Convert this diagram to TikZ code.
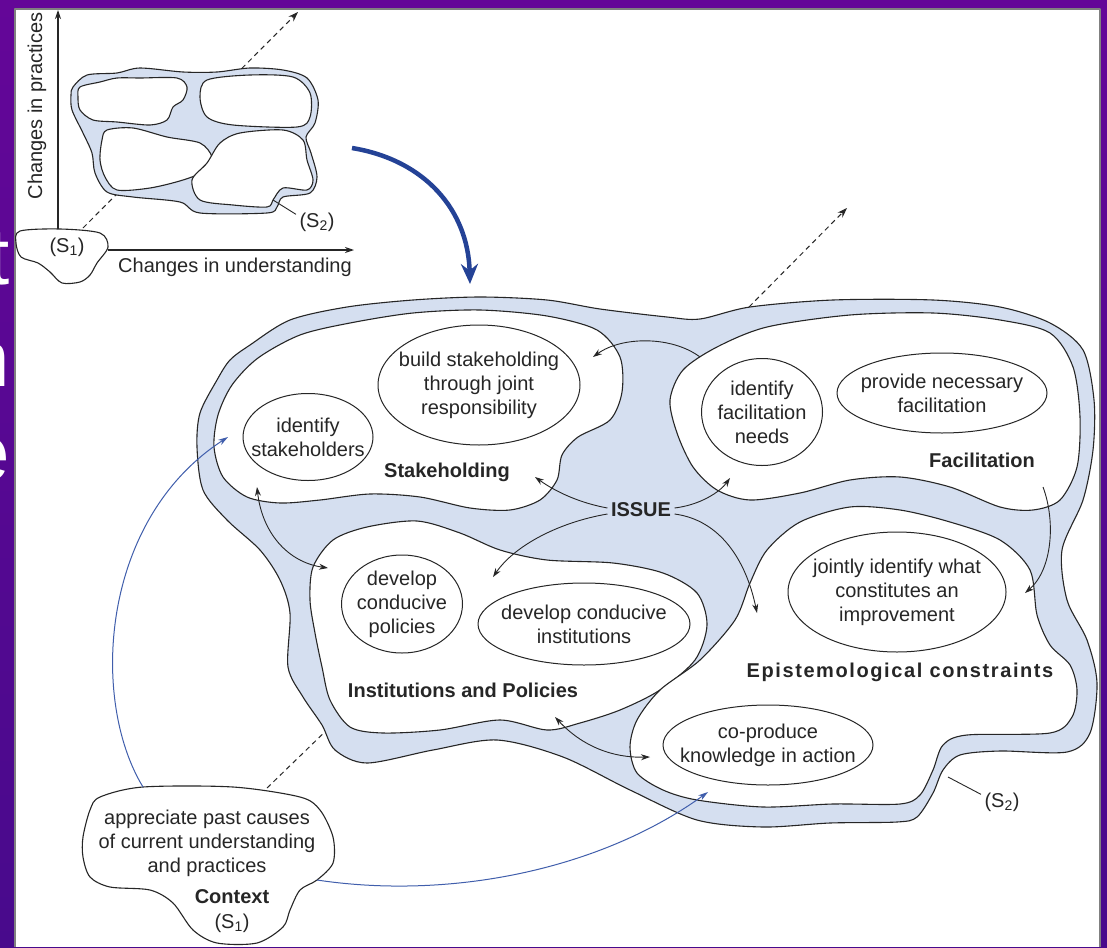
\documentclass[tikz,border=0pt]{standalone}
\usepackage{fontspec}
\setmainfont{Liberation Sans}
\usepackage{tikz}
\usetikzlibrary{shapes.geometric,arrows.meta}
\definecolor{framepurple}{RGB}{100,6,152}
\definecolor{framedeep}{RGB}{72,10,140}
\definecolor{bandblue}{RGB}{213,223,240}
\definecolor{ink}{RGB}{38,38,38}
\definecolor{deepblue}{RGB}{36,66,150}
\definecolor{ctxblue}{RGB}{64,94,172}

\begin{document}
\begin{tikzpicture}[x=1pt, y=-1pt, line join=round,
    every node/.style={text=ink, align=center, font=\fontsize{20}{24}\selectfont},
    region/.style={draw=ink, line width=1.1pt, fill=white},
    ring/.style={draw=ink, line width=1.1pt, fill=bandblue},
    idea/.style={ellipse, draw=ink, line width=1pt, inner sep=-15pt},
    heading/.style={font=\fontsize{20}{24}\selectfont\bfseries},
    link/.style={ink, line width=0.9pt, -{Stealth[length=9pt,width=6pt]}},
    twoway/.style={ink, line width=0.9pt, {Stealth[length=9pt,width=6pt]}-{Stealth[length=9pt,width=6pt]}},
    ctxlink/.style={ctxblue, line width=1pt, -{Stealth[length=10pt,width=6pt]}},
    trend/.style={ink, line width=1pt, dash pattern=on 5pt off 4pt, -{Stealth[length=10pt,width=7pt]}},
    axisline/.style={ink, line width=1.1pt, -{Stealth[length=9pt,width=6pt]}},
    leader/.style={ink, line width=0.9pt}]

\useasboundingbox (0,0) rectangle (1107,947);
\shade[top color=framepurple, bottom color=framedeep] (0,0) rectangle (1107,947);
\begin{scope}
  \clip (0,0) rectangle (14,947);
  \foreach \ch/\yy in {t/284, n/386, e/480}
    \node (left\ch) [anchor=base east, text=white, inner sep=0pt,
      font=\fontsize{80}{80}\selectfont] at (10,\yy) {\ch};
\end{scope}
\fill[white] (15,9) rectangle (1100,947);
\draw[gray, line width=1.6pt] (15,947) -- (15,9) -- (1100,9) -- (1100,947);

% small plot
\coordinate (s1top) at (58,229);
\coordinate (s1right) at (108,250);
\coordinate (yhead) at (58,10);
\coordinate (xhead) at (354,250);
\coordinate (s1dash) at (83,228);
\coordinate (smalldash) at (298,12);
\draw[trend] (s1dash) -- (smalldash);
\draw[ring] plot[smooth cycle] coordinates {(73,87) (87,75) (117,73) (140,68) (183,72)
  (217,72) (250,68) (283,70) (307,78) (318,100) (315,123) (306,137) (311,153) (317,177)
  (310,193) (283,197) (277,207) (267,213) (200,213) (180,202) (133,197) (107,192)
  (95,173) (92,153) (83,133) (72,110) (71,95)};
\draw[region] plot[smooth cycle] coordinates {(80,87) (100,82) (117,78) (140,78) (177,78)
  (187,87) (183,100) (173,107) (167,120) (150,125) (117,122) (93,120) (80,110) (78,97)};
\draw[region] plot[smooth cycle] coordinates {(207,80) (250,75) (293,77) (310,93)
  (310,117) (297,127) (233,125) (207,117) (200,97)};
\draw[region] plot[smooth cycle] coordinates {(107,130) (133,128) (167,137) (200,143)
  (212,157) (207,170) (183,180) (150,188) (117,190) (105,177) (100,160) (102,140)};
\draw[region] plot[smooth cycle] coordinates {(220,143) (240,133) (283,130) (303,140)
  (307,160) (313,180) (307,190) (283,188) (273,200) (267,207) (233,205) (200,200)
  (192,180) (207,163)};
\draw[region] plot[smooth cycle] coordinates {(20,231) (60,229) (100,233) (108,247)
  (97,263) (90,275) (80,282) (62,283) (50,272) (38,263) (21,257) (16,243)};
\node (s1small) at (67,247) {(S\textsubscript{1})};
\draw[axisline] (s1top) -- (yhead);
\draw[axisline] (s1right) -- (xhead);
\node (ylabel) [rotate=90] at (37,106) {Changes in practices};
\node (xlabel) at (235,267) {Changes in understanding};
\coordinate (s2smallfoot) at (273,200);
\node (s2small) at (317,222) {(S\textsubscript{2})};
\draw[leader] (s2smallfoot) -- (s2small.160);

\coordinate (plotout) at (352,148);
\coordinate (mapin) at (470,284);
\draw[deepblue, line width=4.5pt, -{Stealth[length=20pt,width=17pt]}]
  (plotout) .. controls (425,160) and (468,210) .. (mapin);

% big map
\coordinate (ctxdash) at (267,788);
\coordinate (ctxhid) at (332,725);
\draw[trend, -] (ctxdash) -- (ctxhid);
\draw[ring] plot[smooth cycle] coordinates {(217,380) (230,360) (250,345) (290,320)
  (347,307) (413,300) (480,297) (547,300) (600,309) (667,317) (700,319) (750,307)
  (833,300) (933,300) (1000,307) (1050,323) (1083,350) (1094,400) (1093,450) (1083,500)
  (1062,550) (1067,600) (1087,640) (1097,683) (1090,733) (1067,752) (1000,751)
  (960,755) (943,770) (933,793) (917,817) (897,822) (830,823) (763,827) (697,820)
  (630,790) (563,757) (497,740) (433,750) (367,763) (335,750) (322,725) (303,697)
  (288,667) (290,613) (280,580) (260,550) (227,520) (203,490) (197,447) (200,413)};
\draw[region] plot[smooth cycle] coordinates {(214,447) (218,415) (232,385) (258,358)
  (300,335) (350,323) (413,313) (480,310) (547,316) (597,330) (620,357) (622,392)
  (610,420) (578,437) (562,455) (557,480) (540,500) (510,510) (470,508) (420,497)
  (370,494) (320,500) (280,503) (247,497) (223,477)};
\draw[region] plot[smooth cycle] coordinates {(670,400) (677,433) (693,467) (717,490)
  (750,500) (800,493) (850,480) (900,477) (950,487) (1000,507) (1033,510) (1060,500)
  (1077,467) (1080,417) (1073,367) (1050,333) (1000,320) (933,313) (850,315)
  (767,327) (717,347) (683,370)};
\draw[region] plot[smooth cycle] coordinates {(313,567) (333,540) (367,527) (417,521)
  (460,533) (500,550) (547,560) (613,563) (663,573) (697,593) (707,625) (695,660)
  (660,690) (620,710) (580,723) (547,730) (500,720) (440,730) (383,733) (350,727)
  (330,700) (322,667) (315,633) (310,600)};
\draw[region] plot[smooth cycle] coordinates {(800,522) (850,507) (900,510) (950,522)
  (1000,540) (1030,570) (1037,615) (1050,645) (1070,665) (1077,690) (1072,717)
  (1050,733) (967,735) (943,745) (933,770) (920,795) (900,804) (833,804) (763,807)
  (697,800) (663,790) (637,773) (630,747) (637,720) (660,690) (700,660) (735,620)
  (750,583) (767,550)};

\node (buildstake) [idea, minimum width=202pt, minimum height=120pt] at (479,385)
  {build stakeholding\\through joint\\responsibility};
\node (idstake) [idea, minimum width=130pt, minimum height=87pt] at (308,437)
  {identify\\stakeholders};
\node (stakehold) [heading] at (447,472) {Stakeholding};
\node (idfac) [idea, minimum width=121pt, minimum height=107pt] at (762,412)
  {identify\\facilitation\\needs};
\node (providefac) [idea, minimum width=210pt, minimum height=80pt] at (942,393)
  {provide necessary\\facilitation};
\node (facil) [heading] at (982,460) {Facilitation};
\node (devpol) [idea, minimum width=121pt, minimum height=98pt] at (402,604)
  {develop\\conducive\\policies};
\node (devinst) [idea, minimum width=212pt, minimum height=82pt] at (584,624)
  {develop conducive\\institutions};
\node (instpol) [heading] at (463,690) {Institutions and Policies};
\node (jointly) [idea, minimum width=218pt, minimum height=120pt] at (897,592)
  {jointly identify what\\constitutes an\\improvement};
\node (episte) [font=\fontsize{20}{24}\selectfont\bfseries\addfontfeature{LetterSpace=8}]
  at (900,672) {Epistemological constraints};
\node (coprod) [idea, minimum width=210pt, minimum height=80pt] at (768,745)
  {co-produce\\knowledge in action};
\node (issue) [heading] at (641,510) {ISSUE};

\coordinate (stakein) at (535,477);
\coordinate (facin) at (730,478);
\coordinate (polin) at (493,577);
\coordinate (epin) at (757,613);
\coordinate (facout) at (700,357);
\coordinate (buildin) at (593,357);
\coordinate (facdown) at (1043,487);
\coordinate (jointin) at (1025,593);
\coordinate (stakeup) at (257,487);
\coordinate (polleft) at (328,568);
\coordinate (instup) at (555,717);
\coordinate (coleft) at (650,757);
\draw[link] ([yshift=2pt]issue.west) .. controls (580,503) and (556,492) .. (stakein);
\draw[link] ([yshift=2pt]issue.east) .. controls (700,505) and (720,492) .. (facin);
\draw[link] ([yshift=-4pt]issue.west) .. controls (560,522) and (515,545) .. (polin);
\draw[link] ([yshift=-4pt]issue.east) .. controls (720,520) and (746,560) .. (epin);
\draw[link] (facout) .. controls (672,336) and (622,336) .. (buildin);
\draw[link] (facdown) .. controls (1056,522) and (1052,570) .. (jointin);
\draw[twoway] (stakeup) .. controls (262,532) and (287,562) .. (polleft);
\draw[twoway] (instup) .. controls (582,746) and (612,758) .. (coleft);

\coordinate (bigdash) at (749,307);
\coordinate (bighead) at (847,208);
\draw[trend] (bigdash) -- (bighead);

\coordinate (s2bigfoot) at (948,777);
\node (s2big) at (1002,802) {(S\textsubscript{2})};
\draw[leader] (s2bigfoot) -- (s2big.160);

% context
\draw[region] plot[smooth cycle] coordinates {(100,797) (143,787) (233,787) (300,797)
  (320,810) (333,837) (333,863) (317,880) (300,890) (290,910) (283,927) (257,943)
  (217,943) (193,930) (173,903) (150,890) (110,887) (90,877) (83,857) (83,837) (90,810)};
\node (ctxtext) at (207,843) {\baselineskip=25.5pt appreciate past causes\\of current understanding\\and practices};
\node (ctxname) [heading] at (232,897) {Context};
\node (ctxs1) at (232,923) {(S\textsubscript{1})};
\coordinate (ctxup) at (143,787);
\coordinate (stakeleft) at (228,437);
\coordinate (ctxright) at (317,880);
\coordinate (coin) at (708,792);
\draw[ctxlink] (ctxup) .. controls (90,700) and (100,520) .. (stakeleft);
\draw[ctxlink] (ctxright) .. controls (450,900) and (600,870) .. (coin);
\end{tikzpicture}
\end{document}
